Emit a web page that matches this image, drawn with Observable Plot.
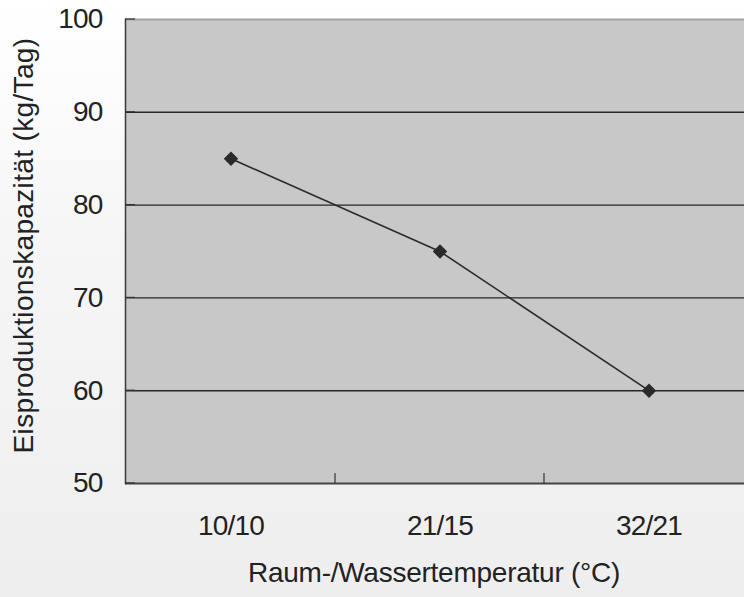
<!DOCTYPE html>
<html>
<head>
<meta charset="utf-8">
<script src="https://cdn.jsdelivr.net/npm/d3@7"></script>
<script src="https://cdn.jsdelivr.net/npm/@observablehq/plot@0.6"></script>
<style>
  html, body { margin: 0; padding: 0; width: 744px; height: 597px; overflow: hidden;
    background: linear-gradient(#ffffff 0%, #f6f6f6 40%, #eeeeee 100%); }
  #chart svg { background: transparent !important; display: block; }
</style>
</head>
<body>
<div id="chart"></div>
<script>
const categories = ["10/10", "21/15", "32/21"];
const values = [85, 75, 60];
const yTicks = [50, 60, 70, 80, 90, 100];
const gridValues = [60, 70, 80, 90];
const xTitle = "Raum-/Wassertemperatur (°C)";
const yTitle = "Eisproduktionskapazität (kg/Tag)";

const data = categories.map((c, i) => ({cat: c, val: values[i]}));

function innerTicks(index, scales, vals, dims) {
  const g = d3.create("svg:g");
  const x0 = dims.marginLeft;
  const yb = dims.height - dims.marginBottom;
  for (const t of yTicks) {
    g.append("line").attr("x1", x0).attr("x2", x0 + 10)
      .attr("y1", scales.y(t)).attr("y2", scales.y(t))
      .attr("stroke", "#333").attr("stroke-width", 1.2);
  }
  for (const c of categories.slice(1)) {
    const xb = scales.x(c);
    g.append("line").attr("x1", xb).attr("x2", xb)
      .attr("y1", yb).attr("y2", yb - 10)
      .attr("stroke", "#333").attr("stroke-width", 1.2);
  }
  return g.node();
}

const chart = Plot.plot({
  width: 744,
  height: 597,
  marginLeft: 125,
  marginRight: -10,
  marginTop: 19,
  marginBottom: 114,
  style: {fontFamily: "'Liberation Sans', Arial, sans-serif", background: "transparent", overflow: "hidden"},
  x: {type: "band", domain: categories, paddingInner: 0, paddingOuter: 0},
  y: {domain: [50, 100]},
  marks: [
    Plot.frame({fill: "#c8c8c9", stroke: null}),
    Plot.ruleY(gridValues, {stroke: "#262626", strokeWidth: 1.4}),
    Plot.ruleY([100], {stroke: "#a2a2a2", strokeWidth: 2}),
    Plot.ruleY([50], {stroke: "#444", strokeWidth: 2}),
    Plot.frame({anchor: "left", stroke: "#3a3a3a", strokeWidth: 1.5}),
    innerTicks,
    Plot.axisY({ticks: yTicks, tickSize: 0, tickPadding: 23, fontSize: 28, color: "#222", label: null}),
    Plot.axisX({tickSize: 0, tickPadding: 32, fontSize: 28, color: "#222", label: null}),
    Plot.text([yTitle], {frameAnchor: "left", rotate: -90, dx: -101, dy: -6, fontSize: 28, fill: "#222",
      textAnchor: "middle", lineAnchor: "middle"}),
    Plot.text([xTitle], {frameAnchor: "bottom", dx: -6, dy: 98, fontSize: 28, fill: "#222", lineAnchor: "bottom"}),
    Plot.line(data, {x: "cat", y: "val", stroke: "#2a2a2a", strokeWidth: 1.6}),
    Plot.dot(data, {x: "cat", y: "val", symbol: "diamond2", r: 6.5, fill: "#2a2a2a", stroke: null})
  ]
});
d3.select(chart).selectAll("g[aria-label='y-axis tick label'] text, g[aria-label='x-axis tick label'] text")
  .style("letter-spacing", "-0.8px");
d3.select(chart).selectAll("g[aria-label='text'] text").each(function(d) {
  const t = d3.select(this);
  if (t.text() === yTitle) t.style("letter-spacing", "0.35px");
  if (t.text() === xTitle) t.style("letter-spacing", "-0.25px");
});
document.getElementById("chart").appendChild(chart);
</script>
</body>
</html>
